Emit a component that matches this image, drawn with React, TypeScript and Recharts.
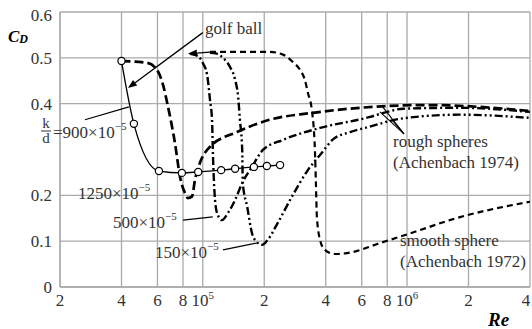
import React from "react";
import { LineChart, Line, XAxis, YAxis, CartesianGrid, ReferenceLine } from "recharts";

type Pt = { re: number; cd: number };

const xTicks = [2e4, 4e4, 6e4, 8e4, 1e5, 2e5, 4e5, 6e5, 8e5, 1e6, 2e6, 4e6];
const yTicks = [0, 0.1, 0.2, 0.4, 0.5, 0.6];

// golf ball, measured points (open circles)
const golfBall: Pt[] = [
  { re: 4.0e4, cd: 0.493 },
  { re: 4.6e4, cd: 0.356 },
  { re: 6.1e4, cd: 0.253 },
  { re: 7.9e4, cd: 0.249 },
  { re: 9.5e4, cd: 0.251 },
  { re: 1.23e5, cd: 0.255 },
  { re: 1.44e5, cd: 0.258 },
  { re: 1.78e5, cd: 0.262 },
  { re: 2.06e5, cd: 0.264 },
  { re: 2.39e5, cd: 0.266 },
];

// rough sphere k/d = 1250e-5
const rough1250: Pt[] = [
  { re: 4.0e4, cd: 0.493 },
  { re: 5.33e4, cd: 0.489 },
  { re: 5.97e4, cd: 0.474 },
  { re: 6.39e4, cd: 0.441 },
  { re: 6.76e4, cd: 0.393 },
  { re: 7.31e4, cd: 0.314 },
  { re: 7.74e4, cd: 0.24 },
  { re: 8.18e4, cd: 0.205 },
  { re: 8.46e4, cd: 0.194 },
  { re: 8.85e4, cd: 0.197 },
  { re: 9.16e4, cd: 0.234 },
  { re: 9.69e4, cd: 0.271 },
  { re: 1.085e5, cd: 0.306 },
  { re: 1.47e5, cd: 0.338 },
  { re: 2.13e5, cd: 0.365 },
  { re: 3.46e5, cd: 0.38 },
  { re: 5.88e5, cd: 0.391 },
  { re: 1.25e6, cd: 0.397 },
  { re: 2.63e6, cd: 0.391 },
  { re: 4.0e6, cd: 0.384 },
];

// rough sphere k/d = 500e-5
const rough500: Pt[] = [
  { re: 8.66e4, cd: 0.509 },
  { re: 9.47e4, cd: 0.504 },
  { re: 1.0e5, cd: 0.489 },
  { re: 1.05e5, cd: 0.463 },
  { re: 1.085e5, cd: 0.408 },
  { re: 1.11e5, cd: 0.365 },
  { re: 1.12e5, cd: 0.299 },
  { re: 1.135e5, cd: 0.227 },
  { re: 1.17e5, cd: 0.164 },
  { re: 1.24e5, cd: 0.146 },
  { re: 1.33e5, cd: 0.162 },
  { re: 1.44e5, cd: 0.19 },
  { re: 1.56e5, cd: 0.227 },
  { re: 1.74e5, cd: 0.262 },
  { re: 1.97e5, cd: 0.299 },
  { re: 2.47e5, cd: 0.321 },
  { re: 3.75e5, cd: 0.347 },
  { re: 6.58e5, cd: 0.371 },
  { re: 7.98e5, cd: 0.382 },
  { re: 9.55e5, cd: 0.389 },
  { re: 1.82e6, cd: 0.391 },
  { re: 4.0e6, cd: 0.382 },
];

// rough sphere k/d = 150e-5
const rough150: Pt[] = [
  { re: 1.085e5, cd: 0.511 },
  { re: 1.17e5, cd: 0.509 },
  { re: 1.256e5, cd: 0.5 },
  { re: 1.36e5, cd: 0.48 },
  { re: 1.44e5, cd: 0.452 },
  { re: 1.49e5, cd: 0.415 },
  { re: 1.52e5, cd: 0.365 },
  { re: 1.56e5, cd: 0.299 },
  { re: 1.57e5, cd: 0.227 },
  { re: 1.65e5, cd: 0.175 },
  { re: 1.74e5, cd: 0.118 },
  { re: 1.84e5, cd: 0.098 },
  { re: 1.95e5, cd: 0.092 },
  { re: 2.08e5, cd: 0.103 },
  { re: 2.33e5, cd: 0.14 },
  { re: 2.73e5, cd: 0.197 },
  { re: 3.27e5, cd: 0.255 },
  { re: 3.83e5, cd: 0.293 },
  { re: 4.34e5, cd: 0.322 },
  { re: 5.26e5, cd: 0.338 },
  { re: 6.58e5, cd: 0.35 },
  { re: 9.55e5, cd: 0.368 },
  { re: 1.82e6, cd: 0.376 },
  { re: 4.0e6, cd: 0.369 },
];

// smooth sphere (Achenbach 1972)
const smooth: Pt[] = [
  { re: 1.085e5, cd: 0.513 },
  { re: 1.47e5, cd: 0.513 },
  { re: 2.13e5, cd: 0.513 },
  { re: 2.47e5, cd: 0.507 },
  { re: 2.76e5, cd: 0.491 },
  { re: 2.99e5, cd: 0.474 },
  { re: 3.16e5, cd: 0.452 },
  { re: 3.27e5, cd: 0.424 },
  { re: 3.42e5, cd: 0.386 },
  { re: 3.54e5, cd: 0.299 },
  { re: 3.58e5, cd: 0.227 },
  { re: 3.62e5, cd: 0.153 },
  { re: 3.75e5, cd: 0.103 },
  { re: 3.96e5, cd: 0.081 },
  { re: 4.44e5, cd: 0.072 },
  { re: 5.08e5, cd: 0.074 },
  { re: 7.62e5, cd: 0.098 },
  { re: 1.156e6, cd: 0.124 },
  { re: 1.62e6, cd: 0.146 },
  { re: 4.0e6, cd: 0.186 },
];

// leader lines (start -> end), in data units
const golfArrow = [{ x: 1.0e5, y: 0.555 }, { x: 4.3e4, y: 0.434 }];
const topArrow = [{ x: 1.12e5, y: 0.513 }, { x: 8.46e4, y: 0.509 }];
const lead900 = [{ x: 2.65e4, y: 0.365 }, { x: 4.35e4, y: 0.393 }];
const lead500 = [{ x: 8.0e4, y: 0.146 }, { x: 1.12e5, y: 0.153 }];
const lead150 = [{ x: 1.256e5, y: 0.081 }, { x: 1.84e5, y: 0.096 }];
const leadRough = [
  [{ x: 9.66e5, y: 0.334 }, { x: 7.6e5, y: 0.393 }],
  [{ x: 9.66e5, y: 0.334 }, { x: 7.37e5, y: 0.382 }],
  [{ x: 9.66e5, y: 0.334 }, { x: 8.43e5, y: 0.365 }],
];

const FONT = "Liberation Serif";
const TEXT = "#333";
const GRID = "#aaa";
const txt = { fontFamily: FONT };

function arrowShape(p: any) {
  const { x1, y1, x2, y2 } = p;
  const a = Math.atan2(y2 - y1, x2 - x1);
  const L = 9;
  const W = 3.5;
  const bx = x2 - L * Math.cos(a);
  const by = y2 - L * Math.sin(a);
  const nx = -Math.sin(a) * W;
  const ny = Math.cos(a) * W;
  return (
    <g>
      <line x1={x1} y1={y1} x2={bx} y2={by} stroke="#000" strokeWidth={1.3} />
      <polygon points={`${x2},${y2} ${bx + nx},${by + ny} ${bx - nx},${by - ny}`} fill="#000" />
    </g>
  );
}

function XTick({ x, y, payload, index }: any) {
  const v = payload.value as number;
  const e = Math.floor(Math.log10(v) + 1e-9);
  const m = Math.round(v / Math.pow(10, e));
  const last = index === xTicks.length - 1;
  return (
    <text x={x} y={y} dx={last ? -4 : 0} dy={11} textAnchor="middle" fontSize={17} fill={TEXT} style={txt}>
      {m === 1 ? (
        <>
          10<tspan dy={-7} fontSize={11}>{e}</tspan>
        </>
      ) : (
        String(m)
      )}
    </text>
  );
}

function YTick({ x, y, payload }: any) {
  const v = payload.value as number;
  return (
    <text x={x} y={y} dy={v === 0.6 ? 9 : 6} textAnchor="end" fontSize={17} fill={TEXT} style={txt}>
      {v === 0 ? "0" : v.toFixed(1)}
    </text>
  );
}

function GolfDot({ cx, cy, index }: any) {
  return <circle key={index} cx={cx} cy={cy} r={3.6} fill="#fff" stroke="#000" strokeWidth={1.2} />;
}

export default function App() {
  return (
    <div style={{ position: "absolute", left: 0, top: 0, width: 532, height: 329, background: "#fff", fontFamily: FONT }}>
      <LineChart width={532} height={329} margin={{ top: 12, right: 2, left: 0, bottom: 12 }}>
        <CartesianGrid stroke={GRID} strokeWidth={1.3} />
        <XAxis
          type="number"
          dataKey="re"
          scale="log"
          domain={[2e4, 4e6]}
          ticks={xTicks}
          interval={0}
          allowDataOverflow
          height={30}
          tickLine={false}
          axisLine={{ stroke: GRID, strokeWidth: 1.3 }}
          tick={<XTick />}
        />
        <YAxis
          type="number"
          dataKey="cd"
          domain={[0, 0.6]}
          ticks={yTicks}
          interval={0}
          width={60}
          tickLine={false}
          axisLine={{ stroke: GRID, strokeWidth: 1.3 }}
          tick={<YTick />}
        />
        <Line data={smooth} dataKey="cd" type="monotone" stroke="#000" strokeWidth={2.2} strokeDasharray="6 4" dot={false} isAnimationActive={false} />
        <Line data={rough150} dataKey="cd" type="monotone" stroke="#000" strokeWidth={2.4} strokeDasharray="8 3 2 3 2 3" dot={false} isAnimationActive={false} />
        <Line data={rough500} dataKey="cd" type="monotone" stroke="#000" strokeWidth={2.4} strokeDasharray="8 3 2 3" dot={false} isAnimationActive={false} />
        <Line data={rough1250} dataKey="cd" type="monotone" stroke="#000" strokeWidth={2.7} strokeDasharray="9 4" dot={false} isAnimationActive={false} />
        <Line data={golfBall} dataKey="cd" type="monotone" stroke="#000" strokeWidth={1.3} dot={<GolfDot />} isAnimationActive={false} />
        <ReferenceLine segment={golfArrow} shape={arrowShape} ifOverflow="visible" />
        <ReferenceLine segment={topArrow} shape={arrowShape} ifOverflow="visible" />
        <ReferenceLine segment={lead900} stroke="#000" strokeWidth={1.2} ifOverflow="visible" />
        <ReferenceLine segment={lead500} stroke="#000" strokeWidth={1.2} ifOverflow="visible" />
        <ReferenceLine segment={lead150} stroke="#000" strokeWidth={1.2} ifOverflow="visible" />
        {leadRough.map((s, i) => (
          <ReferenceLine key={i} segment={s} stroke="#000" strokeWidth={1.1} ifOverflow="visible" />
        ))}
      </LineChart>
      <svg width={532} height={329} style={{ position: "absolute", left: 0, top: 0, pointerEvents: "none", fontFamily: FONT }} fill={TEXT}>
        <text x={8} y={42} fontSize={17} fontStyle="italic" fontWeight="bold" fill="#000">
          C<tspan dy={1} fontSize={12}>D</tspan>
        </text>
        <text x={488} y={326} fontSize={19} fontStyle="italic" fontWeight="bold" fill="#000">Re</text>
        <text x={205} y={34} fontSize={17}>golf ball</text>
        <text x={46} y={128} fontSize={15} textAnchor="middle">k</text>
        <line x1={41} y1={131} x2={51} y2={131} stroke={TEXT} strokeWidth={1} />
        <text x={46} y={143} fontSize={15} textAnchor="middle">d</text>
        <text x={53} y={138} fontSize={17}>
          =900×10<tspan dy={-8} fontSize={11}>−5</tspan>
        </text>
        <text x={78} y={199} fontSize={17}>
          1250×10<tspan dy={-8} fontSize={11}>−5</tspan>
        </text>
        <text x={113} y={228} fontSize={17}>
          500×10<tspan dy={-8} fontSize={11}>−5</tspan>
        </text>
        <text x={155} y={258} fontSize={17}>
          150×10<tspan dy={-8} fontSize={11}>−5</tspan>
        </text>
        <text x={393} y={147} fontSize={17}>rough spheres</text>
        <text x={393} y={168} fontSize={17}>(Achenbach 1974)</text>
        <text x={400} y={246} fontSize={17}>smooth sphere</text>
        <text x={400} y={267} fontSize={17}>(Achenbach 1972)</text>
      </svg>
    </div>
  );
}
